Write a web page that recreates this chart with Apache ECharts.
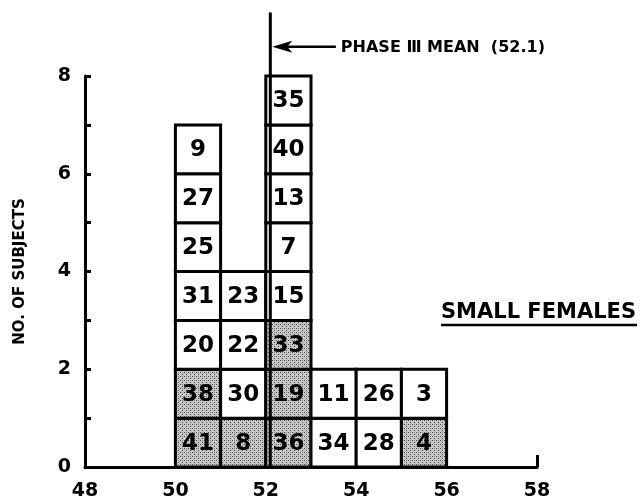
<!DOCTYPE html>
<html>
<head>
<meta charset="utf-8">
<script src="https://cdn.jsdelivr.net/npm/echarts@6/dist/echarts.min.js"></script>
<style>
  html, body { margin: 0; padding: 0; background: #fff; }
  #chart { width: 640px; height: 503px; }
</style>
</head>
<body>
<div id="chart"></div>
<script>
// Histogram bins (left edge of each 1-unit bin) and the subjects stacked in each, bottom to top
const binStarts = [50, 51, 52, 53, 54, 55];
const binWidth = 1;
const subjectStacks = [
  [41, 38, 20, 31, 25, 27, 9],
  [8, 30, 22, 23],
  [36, 19, 33, 15, 7, 13, 40, 35],
  [34, 11],
  [28, 26],
  [4, 3]
];
// Subjects drawn with a shaded cell
const shadedSubjects = [41, 38, 8, 36, 19, 33, 4];

const xTicks = [48, 50, 52, 54, 56, 58];
const yTicks = [0, 2, 4, 6, 8];
const meanValue = 52.1;
const meanLabel = 'PHASE \u2162 MEAN  (52.1)';
const groupLabel = 'SMALL FEMALES';
const yAxisTitle = 'NO. OF SUBJECTS';

const FONT = 'DejaVu Sans';

// Stippled fill for shaded cells: small tile of grey with dark dots
function makeStipple() {
  const c = document.createElement('canvas');
  c.width = 4; c.height = 4;
  const g = c.getContext('2d');
  g.fillStyle = '#c6c6c6';
  g.fillRect(0, 0, 4, 4);
  g.fillStyle = '#4a4a4a';
  g.fillRect(0, 0, 1, 1);
  g.fillRect(2, 2, 1, 1);
  g.fillStyle = '#8a8a8a';
  g.fillRect(2, 0, 1, 1);
  return { image: c, repeat: 'repeat' };
}
const stipple = makeStipple();

// One cell per subject: [binStart, binEnd, level, subject, shaded]
const cells = [];
binStarts.forEach((start, i) => {
  subjectStacks[i].forEach((subj, level) => {
    cells.push([start, start + binWidth, level, subj, shadedSubjects.includes(subj) ? 1 : 0]);
  });
});

const chart = echarts.init(document.getElementById('chart'), null, { renderer: 'canvas' });

chart.setOption({
  animation: false,
  backgroundColor: '#fff',
  grid: { left: 85, right: 103, top: 76, bottom: 36 },
  xAxis: {
    type: 'value',
    min: xTicks[0],
    max: xTicks[xTicks.length - 1],
    interval: 2,
    splitLine: { show: false },
    axisLine: { show: true, lineStyle: { color: '#000', width: 3 } },
    axisTick: { show: true, inside: true, length: 12, customValues: [xTicks[xTicks.length - 1]], lineStyle: { color: '#000', width: 3 } },
    axisLabel: { color: '#000', fontFamily: FONT, fontWeight: 'bold', fontSize: 19, margin: 15 }
  },
  yAxis: {
    type: 'value',
    min: yTicks[0],
    max: yTicks[yTicks.length - 1],
    interval: 1,
    name: yAxisTitle,
    nameLocation: 'middle',
    nameGap: 57,
    nameRotate: 90,
    nameTextStyle: { color: '#000', fontFamily: FONT, fontWeight: 'bold', fontSize: 15 },
    splitLine: { show: false },
    axisLine: { show: true, lineStyle: { color: '#000', width: 3 } },
    axisTick: { show: true, inside: true, length: 6, lineStyle: { color: '#000', width: 3 } },
    axisLabel: {
      color: '#000', fontFamily: FONT, fontWeight: 'bold', fontSize: 19, margin: 14,
      formatter: v => (yTicks.includes(v) ? String(v) : '')
    }
  },
  series: [
    {
      type: 'custom',
      clip: false,
      data: cells,
      renderItem: function (params, api) {
        const x0 = api.value(0), x1 = api.value(1), lv = api.value(2);
        const subj = api.value(3), shaded = api.value(4);
        const p0 = api.coord([x0, lv]);
        const p1 = api.coord([x1, lv + 1]);
        return {
          type: 'group',
          children: [
            {
              type: 'rect',
              shape: { x: p0[0], y: p1[1], width: p1[0] - p0[0], height: p0[1] - p1[1] },
              style: { fill: shaded ? stipple : '#fff', stroke: '#000', lineWidth: 3 }
            },
            {
              type: 'text',
              style: {
                text: String(subj),
                x: (p0[0] + p1[0]) / 2,
                y: (p0[1] + p1[1]) / 2 + 1,
                align: 'center',
                verticalAlign: 'middle',
                font: 'bold 23px "DejaVu Sans"',
                fill: '#000'
              }
            }
          ]
        };
      }
    },
    {
      // Mean marker: vertical rule with a pointing arrow and caption
      type: 'custom',
      clip: false,
      data: [[meanValue]],
      z: 5,
      renderItem: function (params, api) {
        const m = api.value(0);
        const base = api.coord([m, 0]);
        const top = api.coord([m, 9.3]);
        const arrowY = api.coord([m, 8.6])[1];
        const tailX = api.coord([53.55, 0])[0];
        const headX = base[0] + 2;
        return {
          type: 'group',
          children: [
            { type: 'line', shape: { x1: base[0], y1: base[1], x2: top[0], y2: top[1] }, style: { stroke: '#000', lineWidth: 3 } },
            { type: 'line', shape: { x1: headX + 14, y1: arrowY, x2: tailX, y2: arrowY }, style: { stroke: '#000', lineWidth: 2.5 } },
            { type: 'polygon', shape: { points: [[headX, arrowY], [headX + 20, arrowY - 6], [headX + 15, arrowY], [headX + 20, arrowY + 6]] }, style: { fill: '#000' } },
            { type: 'text', style: { text: meanLabel, x: tailX + 5, y: arrowY + 1, align: 'left', verticalAlign: 'middle', font: 'bold 16px "DejaVu Sans"', fill: '#000' } }
          ]
        };
      }
    }
  ],
  graphic: [
    {
      type: 'text',
      left: 441,
      top: 302,
      style: { text: groupLabel, font: 'bold 21px "DejaVu Sans"', fill: '#000' }
    },
    {
      type: 'line',
      shape: { x1: 441, y1: 325, x2: 637, y2: 325 },
      style: { stroke: '#000', lineWidth: 2.5 }
    }
  ]
});
</script>
</body>
</html>
